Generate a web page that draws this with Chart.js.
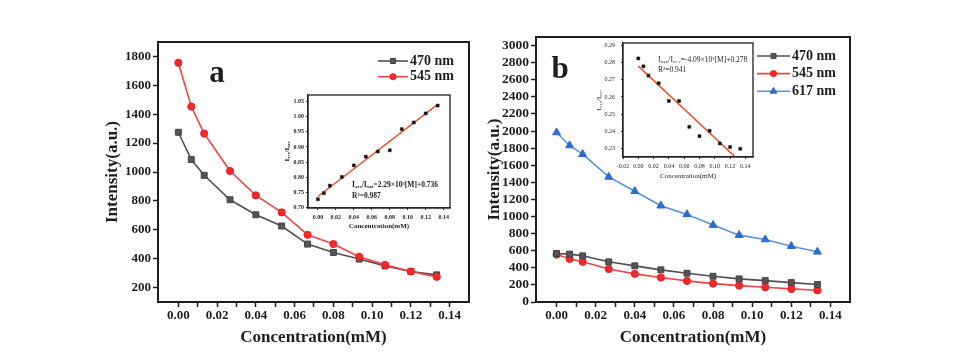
<!DOCTYPE html>
<html><head><meta charset="utf-8">
<script src="https://cdn.jsdelivr.net/npm/chart.js@4"></script>
<style>
html,body{margin:0;padding:0;background:#fff;}
body{width:960px;height:354px;position:relative;overflow:hidden;}
canvas{position:absolute;}
</style></head><body>
<canvas id="ca" style="left:0;top:0" width="480" height="354"></canvas>
<canvas id="cb" style="left:480px;top:0" width="480" height="354"></canvas>
<canvas id="ia" style="left:280px;top:85px" width="180" height="150"></canvas>
<canvas id="ib" style="left:585px;top:30px" width="180" height="155"></canvas>
<script>
// ---------- data ----------
const conc = [0, 0.00667, 0.01333, 0.02667, 0.04, 0.05333, 0.06667, 0.08, 0.09333, 0.10667, 0.12, 0.13333];
const a470 = [1275, 1086, 977, 808, 704, 626, 501, 443, 397, 350, 311, 288];
const a545 = [1756, 1453, 1266, 1007, 838, 720, 565, 501, 413, 357, 311, 274];
const b470 = [567, 560, 540, 470, 423, 376, 337, 301, 270, 250, 227, 204];
const b545 = [555, 505, 470, 387, 329, 286, 247, 215, 192, 172, 153, 137];
const b617 = [1983, 1831, 1729, 1463, 1295, 1127, 1025, 900, 782, 731, 653, 587];
const ratioA = [0.727, 0.747, 0.772, 0.801, 0.839, 0.868, 0.885, 0.889, 0.959, 0.981, 1.011, 1.037];
const ratioB = [0.2825, 0.2779, 0.2725, 0.268, 0.2577, 0.2577, 0.2426, 0.2372, 0.2403, 0.2329, 0.2308, 0.2298];
const fitAx = [0, 0.1333], fitAy = [0.736, 1.041];
const fitBx = [0, 0.128], fitBy = [0.278, 0.2245];
// ticks
const xMajor = [0, 0.02, 0.04, 0.06, 0.08, 0.10, 0.12, 0.14];
const xMinor = [0.01, 0.03, 0.05, 0.07, 0.09, 0.11, 0.13];
const yTicksA = [200, 400, 600, 800, 1000, 1200, 1400, 1600, 1800];
const yTicksB = [0, 200, 400, 600, 800, 1000, 1200, 1400, 1600, 1800, 2000, 2200, 2400, 2600, 2800, 3000];
const insAxTicks = [0, 0.02, 0.04, 0.06, 0.08, 0.10, 0.12, 0.14];
const insAyTicks = [0.70, 0.75, 0.80, 0.85, 0.90, 0.95, 1.00, 1.05];
const insBxTicks = [-0.02, 0, 0.02, 0.04, 0.06, 0.08, 0.10, 0.12, 0.14];
const insByTicks = [0.23, 0.24, 0.25, 0.26, 0.27, 0.28, 0.29];
// texts
const seriesNames = ['470 nm', '545 nm', '617 nm'];
const xTitle = 'Concentration(mM)';
const yTitle = 'Intensity(a.u.)';
const eqA = 'I\u2084\u2087\u2080/I\u2085\u2084\u2085=2.29\u00d710\u00b3[M]+0.736';
const r2A = 'R\u00b2=0.987';
const eqB = 'I\u2085\u2084\u2085/I\u2086\u2081\u2087=-4.09\u00d710\u00b2[M]+0.278';
const r2B = 'R\u00b2=0.941';
const yTitleInsA = 'I\u2084\u2087\u2080/I\u2085\u2084\u2085';
const yTitleInsB = 'I\u2085\u2084\u2085/I\u2086\u2081\u2087';

// ---------- styling ----------
const SERIF = "'Liberation Serif','Times New Roman',serif";
Chart.defaults.font.family = SERIF;
Chart.defaults.color = '#1a1a1a';
const INK = '#1e1e1e';
const STY = {
  '470 nm': {line: '#4f4f4f', fill: '#555555', edge: '#444444', shape: 'rect', r: 4.2},
  '545 nm': {line: '#f04545', fill: '#f02a2a', edge: '#e82020', shape: 'circle', r: 3.6},
  '617 nm': {line: '#5a92dc', fill: '#2f6bd0', edge: '#2f6bd0', shape: 'triangle', r: 4.6}
};

function pts(xs, ys) { return xs.map((x, i) => ({x: x, y: ys[i]})); }
function series(name, ys, order) {
  const s = STY[name];
  return {label: name, data: pts(conc, ys), borderColor: s.line, backgroundColor: s.fill,
    borderWidth: 1.6, pointStyle: s.shape, pointRadius: s.r, pointBackgroundColor: s.fill,
    pointBorderColor: s.edge, pointBorderWidth: 1, tension: 0, order: order};
}
function tickSet(major, minor) {
  return function (scale) {
    const t = major.map(v => ({value: v, minor: false}));
    (minor || []).forEach(v => t.push({value: v, minor: true}));
    t.sort((a, b) => a.value - b.value);
    scale.ticks = t;
  };
}
function fmt(dec) {
  return function (value, index, ticks) {
    if (ticks[index] && ticks[index].minor) return '';
    return dec === 0 ? String(Math.round(value)) : Number(value).toFixed(dec);
  };
}

function drawMarker(ctx, shape, x, y, r) {
  ctx.beginPath();
  if (shape === 'rect') {
    const s = Math.SQRT1_2 * r; ctx.rect(x - s, y - s, 2 * s, 2 * s);
  } else if (shape === 'triangle') {
    const h = r * 1.5, w = r * Math.sqrt(3) / 2;
    ctx.moveTo(x, y - r); ctx.lineTo(x + w, y - r + h); ctx.lineTo(x - w, y - r + h); ctx.closePath();
  } else { ctx.arc(x, y, r, 0, Math.PI * 2); }
  ctx.fill(); ctx.stroke();
}

const framePlugin = {
  id: 'frame',
  afterDraw(chart, args, opts) {
    if (!opts || !opts.on) return;
    const {ctx, chartArea: a} = chart;
    ctx.save(); ctx.strokeStyle = INK; ctx.lineWidth = opts.w || 2;
    ctx.strokeRect(a.left, a.top, a.right - a.left, a.bottom - a.top);
    ctx.restore();
  }
};
const legendPlugin = {
  id: 'lineLegend',
  afterDraw(chart, args, opts) {
    if (!opts || !opts.on) return;
    const {ctx, chartArea: a} = chart;
    const names = chart.data.datasets.map(d => d.label);
    names.forEach((n, i) => {
      const s = STY[n];
      const y = a.top + opts.y0 + i * opts.dy;
      const x0 = a.right + opts.x0, x1 = a.right + opts.x1;
      ctx.save();
      ctx.strokeStyle = s.line; ctx.lineWidth = 1.6;
      ctx.beginPath(); ctx.moveTo(x0, y); ctx.lineTo(x1, y); ctx.stroke();
      ctx.fillStyle = s.fill; ctx.strokeStyle = s.edge; ctx.lineWidth = 1;
      drawMarker(ctx, s.shape, (x0 + x1) / 2, y, s.r * 0.85);
      ctx.fillStyle = INK; ctx.font = 'bold 14px ' + SERIF;
      ctx.textBaseline = 'middle'; ctx.textAlign = 'left';
      ctx.fillText(n, a.right + opts.tx, y);
      ctx.restore();
    });
  }
};
const textPlugin = {
  id: 'notes',
  afterDraw(chart, args, opts) {
    if (!opts || !opts.items) return;
    const {ctx, chartArea: a} = chart;
    opts.items.forEach(it => {
      ctx.save(); ctx.fillStyle = INK; ctx.font = it.font;
      ctx.textBaseline = 'middle'; ctx.textAlign = it.align || 'left';
      ctx.fillText(it.text, a.left + it.dx, a.top + it.dy);
      ctx.restore();
    });
  }
};
Chart.register(framePlugin, legendPlugin, textPlugin);

function mainScales(yTicks, yMin, yMax, yW, ySize) {
  const tickFont = {size: 13, weight: 'bold', family: SERIF};
  const yTickFont = {size: ySize, weight: 'bold', family: SERIF};
  const titleFont = {size: 17, weight: 'bold', family: SERIF};
  const grid = {drawOnChartArea: false, drawTicks: true, tickLength: 5, tickWidth: 1.5, color: INK};
  return {
    x: {type: 'linear', min: -0.0105, max: 0.15,
      afterBuildTicks: tickSet(xMajor, xMinor),
      afterFit(s) { s.height = 50; },
      ticks: {callback: fmt(2), font: tickFont, color: INK, autoSkip: false, maxRotation: 0, padding: 1},
      grid: grid, border: {color: INK, width: 2},
      title: {display: true, text: xTitle, font: titleFont, color: INK, padding: 4}},
    y: {type: 'linear', min: yMin, max: yMax,
      afterBuildTicks: tickSet(yTicks),
      afterFit(s) { s.width = yW; },
      ticks: {callback: fmt(0), font: yTickFont, color: INK, autoSkip: false, padding: 2},
      grid: grid, border: {color: INK, width: 2},
      title: {display: true, text: yTitle, font: titleFont, color: INK, padding: 4}}
  };
}

new Chart(document.getElementById('ca'), {
  type: 'line',
  data: {datasets: [series('470 nm', a470, 2), series('545 nm', a545, 1)]},
  options: {
    responsive: false, animation: false, devicePixelRatio: 1,
    layout: {padding: {left: 98, right: 11, top: 42, bottom: 2}},
    scales: mainScales(yTicksA, 100, 1900, 60, 13),
    plugins: {legend: {display: false}, tooltip: {enabled: false},
      frame: {on: true},
      lineLegend: {on: true, x0: -91, x1: -61, tx: -59, y0: 19, dy: 15.7},
      notes: {items: [{text: 'a', dx: 59, dy: 32, font: 'bold 31px ' + SERIF, align: 'center'}]}}
  }
});

new Chart(document.getElementById('cb'), {
  type: 'line',
  data: {datasets: [series('470 nm', b470, 1), series('545 nm', b545, 2), series('617 nm', b617, 3)]},
  options: {
    responsive: false, animation: false, devicePixelRatio: 1,
    layout: {padding: {left: 0, right: 110, top: 37, bottom: 2}},
    scales: mainScales(yTicksB, 0, 3100, 56, 13.5),
    plugins: {legend: {display: false}, tooltip: {enabled: false},
      frame: {on: true},
      lineLegend: {on: true, x0: -93, x1: -60, tx: -58, y0: 19, dy: 17.6},
      notes: {items: [{text: 'b', dx: 24, dy: 33, font: 'bold 31px ' + SERIF, align: 'center'}]}}
  }
});

function insetScales(o) {
  const tf = {size: 6, weight: o.bold ? 'bold' : 'normal', family: SERIF};
  const ttl = {size: 7, weight: o.bold ? 'bold' : 'normal', family: SERIF};
  const grid = {drawOnChartArea: false, drawTicks: true, tickLength: 2, tickWidth: 1, color: '#333'};
  return {
    x: {type: 'linear', min: o.xmin, max: o.xmax,
      afterBuildTicks: tickSet(o.xt), afterFit(s) { s.height = o.xh; },
      ticks: {callback: fmt(2), font: tf, color: INK, autoSkip: false, maxRotation: 0, padding: o.xpad},
      grid: grid, border: {color: '#333', width: 1.2},
      title: {display: true, text: xTitle, font: ttl, color: INK, padding: 1}},
    y: {type: 'linear', min: o.ymin, max: o.ymax,
      afterBuildTicks: tickSet(o.yt), afterFit(s) { s.width = o.yw; },
      ticks: {callback: fmt(2), font: tf, color: INK, autoSkip: false, padding: o.ypad},
      grid: grid, border: {color: '#333', width: 1.2},
      title: {display: true, text: o.ytitle, font: ttl, color: INK, padding: 1}}
  };
}
function insetData(ys, fx, fy) {
  return {datasets: [
    {type: 'line', data: pts(fx, fy), borderColor: '#f0502a', borderWidth: 1.5, pointRadius: 0, order: 2},
    {type: 'line', showLine: false, data: pts(conc, ys), pointStyle: 'rect', pointRadius: 2.1,
      pointBackgroundColor: '#111', pointBorderColor: '#111', pointBorderWidth: 0.5, order: 1}
  ]};
}

new Chart(document.getElementById('ia'), {
  type: 'line',
  data: insetData(ratioA, fitAx, fitAy),
  options: {
    responsive: false, animation: false, devicePixelRatio: 1,
    layout: {padding: {left: 2, right: 10, top: 10, bottom: 4}},
    scales: insetScales({xmin: -0.011, xmax: 0.147, ymin: 0.698, ymax: 1.072, xt: insAxTicks, yt: insAyTicks,
      xh: 23, yw: 26, xpad: 4, ypad: 2, ytitle: yTitleInsA, bold: true}),
    plugins: {legend: {display: false}, tooltip: {enabled: false},
      frame: {on: true, w: 1.3},
      notes: {items: [
        {text: eqA, dx: 44, dy: 90, font: 'bold 7.5px ' + SERIF},
        {text: r2A, dx: 44, dy: 101, font: 'bold 7.5px ' + SERIF}]}}
  }
});

new Chart(document.getElementById('ib'), {
  type: 'line',
  data: insetData(ratioB, fitBx, fitBy),
  options: {
    responsive: false, animation: false, devicePixelRatio: 1,
    layout: {padding: {left: 9, right: 12, top: 13, bottom: 4}},
    scales: insetScales({xmin: -0.02, xmax: 0.15, ymin: 0.225, ymax: 0.2915, xt: insBxTicks, yt: insByTicks,
      xh: 24, yw: 29, xpad: 4, ypad: 6, ytitle: yTitleInsB, bold: false}),
    plugins: {legend: {display: false}, tooltip: {enabled: false},
      frame: {on: true, w: 1.3},
      notes: {items: [
        {text: eqB, dx: 35, dy: 17, font: '7.5px ' + SERIF},
        {text: r2B, dx: 35, dy: 27, font: '7.5px ' + SERIF}]}}
  }
});
</script>
</body></html>
